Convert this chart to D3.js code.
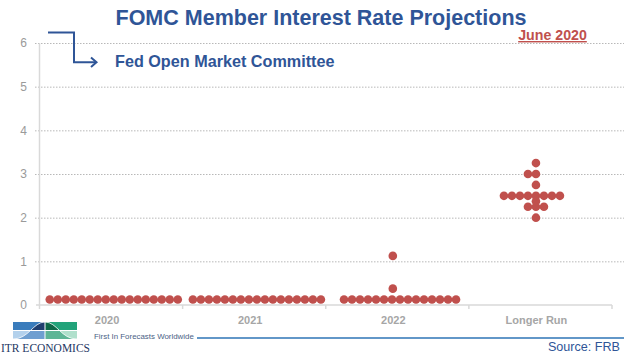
<!DOCTYPE html>
<html><head><meta charset="utf-8">
<script src="https://cdn.jsdelivr.net/npm/d3@7"></script>
<style>
html,body{margin:0;padding:0;background:#fff;}
svg{display:block;font-family:Arial,"Liberation Sans",sans-serif;}
</style></head>
<body>
<svg id="chart" width="624" height="355"></svg>
<script>
// ---- data ----
const categories = ["2020", "2021", "2022", "Longer Run"];
const rateLevels = [0.125, 0.375, 1.125, 2.0, 2.25, 2.375, 2.5, 2.75, 3.0, 3.25];
// number of participants (dots) at each rate level, per category
const count2020 = [17, 0, 0, 0, 0, 0, 0, 0, 0, 0];
const count2021 = [17, 0, 0, 0, 0, 0, 0, 0, 0, 0];
const count2022 = [15, 1, 1, 0, 0, 0, 0, 0, 0, 0];
const countLonger = [0, 0, 0, 1, 3, 1, 8, 1, 2, 1];
const yTicks = [0, 1, 2, 3, 4, 5, 6];
const titleText = "FOMC Member Interest Rate Projections";
const subtitleText = "Fed Open Market Committee";
const dateText = "June 2020";
const sourceText = "Source: FRB";

(function () {
const counts = [count2020, count2021, count2022, countLonger];

const svg = d3.select("#chart");
const blue = "#2f5597";
const red = "#c0504d";
const gray = "#9a9a9a";

const pLeft = 39.5, pRight = 612, pTop = 43, pBottom = 305;
const y = d3.scaleLinear().domain([0, 6]).range([pBottom, pTop]);
const x = d3.scaleBand().domain(categories).range([pLeft, pRight]).padding(0);

// gridlines + y labels
const yAxis = d3.axisLeft(y).tickValues(yTicks).tickSizeInner(-(624 - 35)).tickSizeOuter(0).tickPadding(8).tickFormat(d3.format("d"));
const gy = svg.append("g").attr("transform", "translate(35,0)").call(yAxis);
gy.select(".domain").remove();
gy.selectAll(".tick line")
  .attr("stroke", "#b8b8b8").attr("stroke-width", 1).attr("stroke-dasharray", "1.5,1.5")
  .filter(d => d === 0).remove();
gy.selectAll(".tick text").attr("fill", gray).attr("font-size", 12).attr("font-family", "Arial, 'Liberation Sans', sans-serif");

// axes lines
svg.append("line").attr("x1", pLeft).attr("x2", pLeft).attr("y1", pTop).attr("y2", pBottom + 4)
  .attr("stroke", "#d9d9d9").attr("stroke-width", 1.5);
svg.append("line").attr("x1", 36).attr("x2", pRight).attr("y1", pBottom).attr("y2", pBottom)
  .attr("stroke", "#d9d9d9").attr("stroke-width", 1.5);
svg.selectAll(".xtick").data(categories).join("line")
  .attr("x1", d => x(d) + x.bandwidth()).attr("x2", d => x(d) + x.bandwidth())
  .attr("y1", pBottom).attr("y2", pBottom + 4)
  .attr("stroke", "#d9d9d9").attr("stroke-width", 1.5);

// x labels
const xAxis = d3.axisBottom(x).tickSize(0).tickPadding(0);
const gx = svg.append("g").attr("transform", `translate(-4,${pBottom + 19})`).call(xAxis);
gx.select(".domain").remove();
gx.selectAll(".tick text").attr("fill", "#a6a6a6").attr("font-size", 11).attr("font-weight", "bold")
  .attr("font-family", "Arial, 'Liberation Sans', sans-serif").attr("dy", 0);

// dots
const step = 8;
const dots = [];
categories.forEach((c, ci) => {
  const center = x(c) + x.bandwidth() / 2;
  counts[ci].forEach((n, li) => {
    if (!n) return;
    const anchor = center + (n >= 10 ? 2.7 : -4.5);
    for (let i = 0; i < n; i++) {
      dots.push({ cx: anchor + (i - Math.floor(n / 2)) * step, v: rateLevels[li] });
    }
  });
});
svg.append("g").selectAll("circle").data(dots).join("circle")
  .attr("cx", d => d.cx).attr("cy", d => y(d.v)).attr("r", 4.3).attr("fill", red);

// title
svg.append("text").attr("x", 321).attr("y", 25).attr("text-anchor", "middle")
  .attr("font-size", 21.5).attr("font-weight", "bold").attr("fill", blue).text(titleText);

// elbow arrow
svg.append("path").attr("d", "M48,32.5 H74 V62.3 H96").attr("fill", "none").attr("stroke", blue).attr("stroke-width", 2);
svg.append("path").attr("d", "M91,57.5 L96.5,62.3 L91,67").attr("fill", "none").attr("stroke", blue).attr("stroke-width", 2);

svg.append("text").attr("x", 115).attr("y", 67).attr("font-size", 16.2).attr("font-weight", "bold")
  .attr("fill", blue).text(subtitleText);

svg.append("text").attr("x", 552.5).attr("y", 40).attr("text-anchor", "middle").attr("font-size", 14.2)
  .attr("font-weight", "bold").attr("fill", red).attr("text-decoration", "underline").text(dateText);

// footer
svg.append("line").attr("x1", 197).attr("x2", 624).attr("y1", 338).attr("y2", 338)
  .attr("stroke", "#2e75b6").attr("stroke-width", 1.5);
svg.append("text").attr("x", 94).attr("y", 339).attr("font-size", 7.9).attr("fill", "#4a6285")
  .text("First In Forecasts Worldwide");
svg.append("text").attr("x", 620).attr("y", 351).attr("text-anchor", "end").attr("font-size", 12.6)
  .attr("fill", blue).text(sourceText);

// logo
const logo = svg.append("g");
const bell = "M13,339 C29,339 33,322 45,322 C57,322 61,339 77,339 Z";
const defs = svg.append("defs");
defs.append("clipPath").attr("id", "bellclip").append("path").attr("d", bell);
const quads = [
  [13, 322, 32, 8.5, "#3a7cbc", "#1f3d6e"],
  [45, 322, 32, 8.5, "#22a37a", "#0d6847"],
  [13, 330.5, 32, 8.5, "#b3d1ec", "#6f9fd0"],
  [45, 330.5, 32, 8.5, "#b0e0cc", "#5fb596"]
];
quads.forEach(q => {
  logo.append("rect").attr("x", q[0]).attr("y", q[1]).attr("width", q[2]).attr("height", q[3]).attr("fill", q[4]);
});
const inner = logo.append("g").attr("clip-path", "url(#bellclip)");
quads.forEach(q => {
  inner.append("rect").attr("x", q[0]).attr("y", q[1]).attr("width", q[2]).attr("height", q[3]).attr("fill", q[5]);
});
logo.append("path").attr("d", "M13,339 C29,339 33,322 45,322 C57,322 61,339 77,339").attr("fill", "none")
  .attr("stroke", "#fff").attr("stroke-width", 0.8);
logo.append("line").attr("x1", 13).attr("x2", 77).attr("y1", 330.5).attr("y2", 330.5).attr("stroke", "#fff").attr("stroke-width", 1);
logo.append("line").attr("x1", 45).attr("x2", 45).attr("y1", 322).attr("y2", 339).attr("stroke", "#fff").attr("stroke-width", 1);
svg.append("text").attr("x", 1).attr("y", 352).attr("font-family", "'Liberation Serif', 'Times New Roman', serif")
  .attr("font-size", 12.5).attr("textLength", 89).attr("lengthAdjust", "spacingAndGlyphs")
  .attr("fill", "#1f3864").text("ITR ECONOMICS");
})();
</script>
</body></html>
